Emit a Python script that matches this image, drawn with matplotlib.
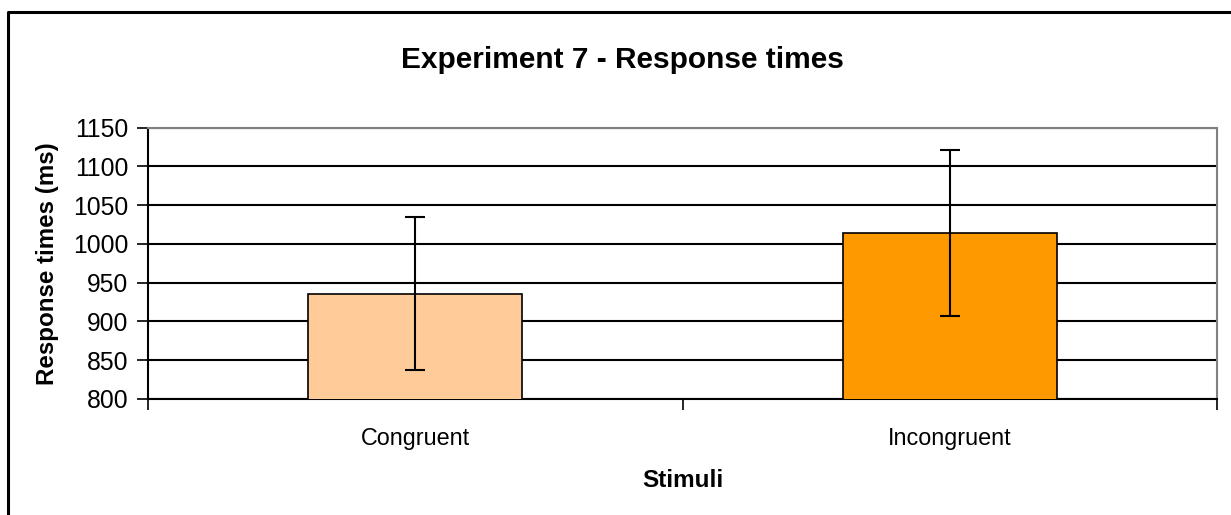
import numpy as np
import matplotlib.pyplot as plt
from matplotlib.lines import Line2D

plt.rcParams['font.family'] = ['Liberation Sans', 'DejaVu Sans']

stimuli = ['Congruent', 'Incongruent']
response_ms = [935.5, 1014.3]
errors_ms = [98.5, 107.0]
bar_colors = ['#FFCC99', '#FF9900']
y_ticks = [800, 850, 900, 950, 1000, 1050, 1100, 1150]

W, H = 1231, 515
fig = plt.figure(figsize=(W / 100, H / 100), dpi=100)
ax = fig.add_axes([148 / W, 1 - 399 / H, (1217 - 148) / W, (399 - 127.5) / H])

x = np.arange(len(stimuli))
ax.bar(x, response_ms, width=0.4, color=bar_colors, edgecolor='black',
       linewidth=1.2, zorder=3)
ax.errorbar(x, response_ms, yerr=errors_ms, fmt='none', ecolor='black',
            elinewidth=1.5, capsize=7, capthick=1.5, zorder=4)

ax.set_ylim(800, 1150)
ax.set_xlim(-0.5, 1.5)
ax.set_yticks(y_ticks)
ax.yaxis.grid(True, color='black', linewidth=1.5, zorder=0)
ax.set_axisbelow(True)

# category boundaries get the tick marks, labels sit in between
ax.set_xticks([-0.5, 0.5, 1.5])
ax.set_xticklabels([])
ax.set_xticks(x, minor=True)
ax.set_xticklabels(stimuli, minor=True, fontsize=16.8)
ax.tick_params(axis='x', which='minor', length=0, pad=20)
ax.tick_params(axis='x', which='major', length=8, width=1.2, direction='out')
ax.tick_params(axis='y', length=8, width=1.2, direction='out', labelsize=17.8, pad=6)

ax.spines['left'].set_linewidth(1.5)
ax.spines['bottom'].set_linewidth(1.5)
ax.spines['top'].set_color('#808080')
ax.spines['right'].set_color('#808080')
ax.spines['top'].set_linewidth(1.5)
ax.spines['right'].set_linewidth(1.5)

ax.set_ylabel('Response times (ms)', fontsize=17.4, fontweight='bold', labelpad=10)
ax.set_xlabel('Stimuli', fontsize=17.5, fontweight='bold', labelpad=14)
fig.text(622 / W, 1 - 60 / H, 'Experiment 7 - Response times', fontsize=21.5,
         fontweight='bold', ha='center', va='center')

# chart-area border (left and top visible in the original crop)
fig.add_artist(Line2D([8 / W, 8 / W, 1.0], [0.0, 1 - 12 / H, 1 - 12 / H],
                      transform=fig.transFigure, color='black', linewidth=2.2))

fig.savefig('out.png', dpi=100)
